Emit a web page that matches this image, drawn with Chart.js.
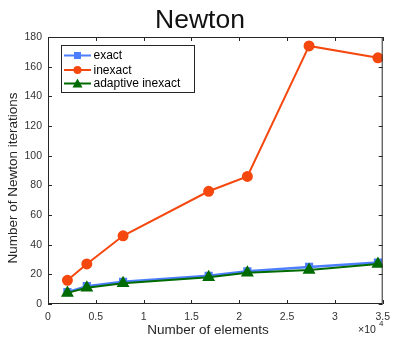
<!DOCTYPE html>
<html><head><meta charset="utf-8">
<script src="https://cdn.jsdelivr.net/npm/chart.js@4"></script>
<style>html,body{margin:0;padding:0;background:#fff}#wrap{width:397px;height:337px}</style>
</head><body><div id="wrap"><canvas id="c" width="397" height="337"></canvas></div>
<script>
const elements = [2030, 4060, 7850, 16800, 20850, 27300, 34500];
const exactIters = [8, 12, 15, 19, 22, 25, 28];
const inexactIters = [16, 27, 46, 76, 86, 174, 166];
const adaptiveIters = [7.5, 11, 14, 18, 21, 23, 27];
const seriesNames = ['exact', 'inexact', 'adaptive inexact'];
const xTicks = [0, 5000, 10000, 15000, 20000, 25000, 30000, 35000];
const yTicks = [0, 20, 40, 60, 80, 100, 120, 140, 160, 180];

const FONT = '"Liberation Sans", Arial, sans-serif';
const toPts = (ys) => elements.map((x, i) => ({x, y: ys[i]}));

const frame = {
  id: 'frame',
  afterDraw(chart) {
    const {ctx, chartArea: a, scales: {x, y}} = chart;
    ctx.save();
    ctx.strokeStyle = '#262626';
    ctx.lineWidth = 1;
    ctx.strokeRect(a.left + 0.5, a.top + 0.5, a.right - a.left - 1, a.bottom - a.top - 1);
    const tl = 4;
    ctx.beginPath();
    xTicks.forEach(v => {
      const px = Math.round(x.getPixelForValue(v)) + 0.5;
      ctx.moveTo(px, a.bottom); ctx.lineTo(px, a.bottom - tl);
      ctx.moveTo(px, a.top); ctx.lineTo(px, a.top + tl);
    });
    yTicks.forEach(v => {
      const py = Math.round(y.getPixelForValue(v)) + 0.5;
      ctx.moveTo(a.left, py); ctx.lineTo(a.left + tl, py);
      ctx.moveTo(a.right, py); ctx.lineTo(a.right - tl, py);
    });
    ctx.stroke();

    // title
    ctx.fillStyle = '#111';
    ctx.font = '26.5px ' + FONT;
    ctx.textAlign = 'center';
    ctx.textBaseline = 'alphabetic';
    ctx.fillText('Newton', 200, 28);

    // axis titles
    ctx.fillStyle = '#262626';
    ctx.font = '13.5px ' + FONT;
    ctx.textBaseline = 'middle';
    ctx.fillText('Number of elements', 208, 330);
    ctx.save();
    ctx.translate(13.5, 178);
    ctx.rotate(-Math.PI / 2);
    ctx.fillText('Number of Newton iterations', 0, 0);
    ctx.restore();

    // x10^4
    ctx.font = '10.5px ' + FONT;
    ctx.textAlign = 'left';
    ctx.fillText('\u00d710', 358, 330);
    ctx.font = '8px ' + FONT;
    ctx.fillText('4', 379, 324);

    // legend
    const lx = 61, ly = 45, lw = 133, lh = 47;
    ctx.fillStyle = '#fff';
    ctx.fillRect(lx, ly, lw, lh);
    ctx.strokeStyle = '#262626';
    ctx.strokeRect(lx + 0.5, ly + 0.5, lw, lh);
    const rows = [55.5, 70, 83.5];
    chart.data.datasets.forEach((ds, i) => {
      const yy = rows[i];
      ctx.strokeStyle = ds.borderColor;
      ctx.lineWidth = 2;
      ctx.beginPath(); ctx.moveTo(64, yy); ctx.lineTo(91, yy); ctx.stroke();
      ctx.fillStyle = ds.borderColor;
      const cx = 77.5;
      ctx.beginPath();
      if (ds.pointStyle === 'rect') { ctx.rect(cx - 3.5, yy - 3.5, 7, 7); }
      else if (ds.pointStyle === 'circle') { ctx.arc(cx, yy, 4, 0, Math.PI * 2); }
      else { ctx.moveTo(cx, yy - 5); ctx.lineTo(cx + 5, yy + 4); ctx.lineTo(cx - 5, yy + 4); ctx.closePath(); }
      ctx.fill();
      ctx.fillStyle = '#000';
      ctx.font = '12px ' + FONT;
      ctx.textAlign = 'left';
      ctx.textBaseline = 'middle';
      ctx.fillText(seriesNames[i], 93.5, yy + 0.5);
    });
    ctx.restore();
  }
};

new Chart(document.getElementById('c'), {
  type: 'line',
  data: {
    datasets: [
      {label: seriesNames[0], data: toPts(exactIters), borderColor: '#4d7eff', backgroundColor: '#4d7eff',
       borderWidth: 2.5, pointStyle: 'rect', pointRadius: 4, order: 3},
      {label: seriesNames[1], data: toPts(inexactIters), borderColor: '#f5480f', backgroundColor: '#f5480f',
       borderWidth: 2, pointStyle: 'circle', pointRadius: 4.5, order: 2},
      {label: seriesNames[2], data: toPts(adaptiveIters), borderColor: '#006b00', backgroundColor: '#006b00',
       borderWidth: 2, pointStyle: 'triangle', pointRadius: 5.5, order: 1}
    ]
  },
  options: {
    responsive: false, animation: false, devicePixelRatio: 1,
    layout: {padding: {top: 37, right: 10, left: 0, bottom: 0}},
    plugins: {legend: {display: false}, title: {display: false}, tooltip: {enabled: false}},
    elements: {line: {tension: 0}, point: {borderWidth: 0}},
    scales: {
      x: {type: 'linear', min: 0, max: 35000,
          afterFit(s) { s.height = 33; },
          afterBuildTicks(s) { s.ticks = xTicks.map(v => ({value: v})); },
          grid: {display: false, drawTicks: false}, border: {display: false},
          ticks: {padding: 7, color: '#333', font: {family: FONT, size: 10.5}, maxRotation: 0,
                  callback: v => String(v / 10000)}},
      y: {min: 0, max: 180,
          afterFit(s) { s.width = 48; },
          afterBuildTicks(s) { s.ticks = yTicks.map(v => ({value: v})); },
          grid: {display: false, drawTicks: false}, border: {display: false},
          ticks: {padding: 6, color: '#333', font: {family: FONT, size: 10.5}}}
    }
  },
  plugins: [frame]
});
</script></body></html>
